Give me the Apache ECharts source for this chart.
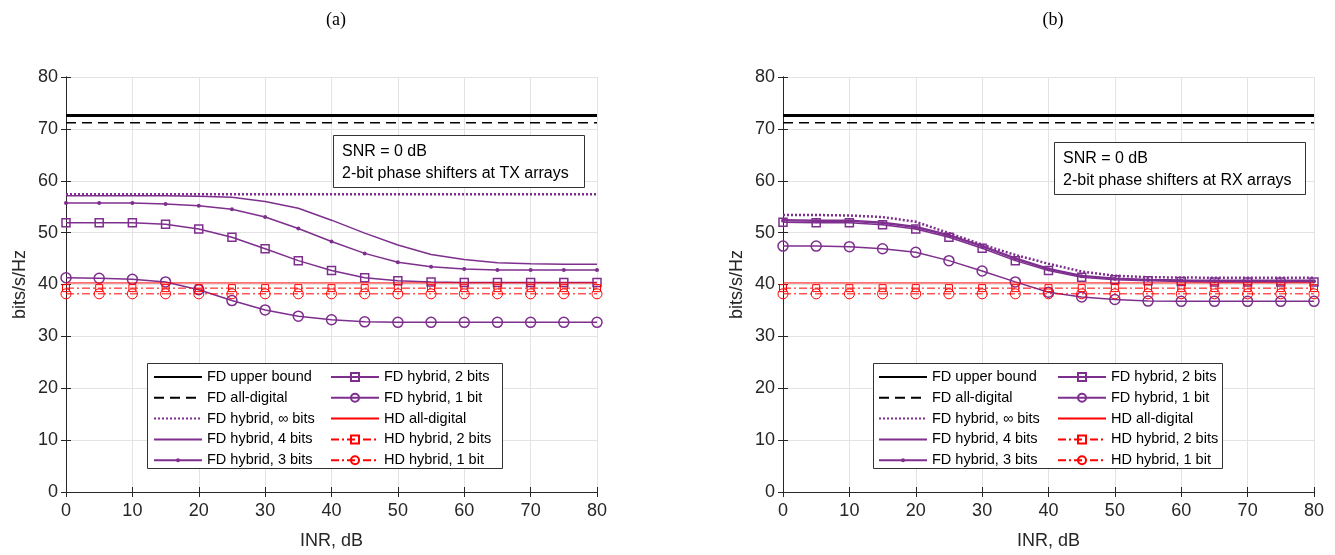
<!DOCTYPE html>
<html>
<head>
<meta charset="utf-8">
<script src="https://cdn.jsdelivr.net/npm/echarts@6/dist/echarts.min.js"></script>
<style>
  html, body { margin: 0; padding: 0; background: #fff; }
  #chart { width: 1335px; height: 555px; }
</style>
</head>
<body>
<div id="chart"></div>
<script>
const inr = [0, 5, 10, 15, 20, 25, 30, 35, 40, 45, 50, 55, 60, 65, 70, 75, 80];

// shared by both panels
const upperBound = [72.6, 72.6, 72.6, 72.6, 72.6, 72.6, 72.6, 72.6, 72.6, 72.6, 72.6, 72.6, 72.6, 72.6, 72.6, 72.6, 72.6];
const fdAllDigital = [71.2, 71.2, 71.2, 71.2, 71.2, 71.2, 71.2, 71.2, 71.2, 71.2, 71.2, 71.2, 71.2, 71.2, 71.2, 71.2, 71.2];
const hdAllDigital = [40.3, 40.3, 40.3, 40.3, 40.3, 40.3, 40.3, 40.3, 40.3, 40.3, 40.3, 40.3, 40.3, 40.3, 40.3, 40.3, 40.3];
const hdHybrid2 = [39.3, 39.3, 39.3, 39.3, 39.3, 39.3, 39.3, 39.3, 39.3, 39.3, 39.3, 39.3, 39.3, 39.3, 39.3, 39.3, 39.3];
const hdHybrid1 = [38.2, 38.2, 38.2, 38.2, 38.2, 38.2, 38.2, 38.2, 38.2, 38.2, 38.2, 38.2, 38.2, 38.2, 38.2, 38.2, 38.2];

// (a) phase shifters at TX arrays
const txInf = [57.4, 57.4, 57.4, 57.4, 57.4, 57.4, 57.4, 57.4, 57.4, 57.4, 57.4, 57.4, 57.4, 57.4, 57.4, 57.4, 57.4];
const tx4 = [57.1, 57.1, 57.1, 57.1, 57.0, 56.8, 56.0, 54.7, 52.4, 49.9, 47.6, 45.8, 44.8, 44.2, 44.0, 43.9, 43.9];
const tx3 = [55.7, 55.7, 55.7, 55.5, 55.2, 54.5, 53.0, 50.8, 48.3, 46.0, 44.3, 43.4, 43.0, 42.8, 42.8, 42.8, 42.8];
const tx2 = [51.9, 51.9, 51.9, 51.6, 50.7, 49.1, 46.9, 44.6, 42.7, 41.3, 40.7, 40.5, 40.4, 40.4, 40.4, 40.4, 40.4];
const tx1 = [41.3, 41.2, 41.0, 40.5, 39.0, 36.9, 35.1, 33.9, 33.2, 32.8, 32.7, 32.7, 32.7, 32.7, 32.7, 32.7, 32.7];

// (b) phase shifters at RX arrays
const rxInf = [53.4, 53.4, 53.3, 53.0, 52.1, 49.9, 47.7, 45.7, 44.0, 42.5, 41.7, 41.4, 41.35, 41.3, 41.3, 41.3, 41.3];
const rx4 = [52.5, 52.4, 52.4, 52.0, 51.2, 49.6, 47.5, 45.1, 43.1, 41.75, 41.2, 40.95, 40.85, 40.8, 40.8, 40.8, 40.8];
const rx3 = [52.3, 52.2, 52.2, 51.8, 51.0, 49.4, 47.3, 44.9, 42.95, 41.6, 41.1, 40.85, 40.75, 40.65, 40.65, 40.65, 40.65];
const rx2 = [52.0, 51.9, 51.9, 51.5, 50.7, 49.1, 47.0, 44.6, 42.7, 41.4, 40.9, 40.7, 40.6, 40.5, 40.5, 40.5, 40.5];
const rx1 = [47.4, 47.4, 47.3, 46.9, 46.2, 44.6, 42.6, 40.5, 38.5, 37.6, 37.1, 36.8, 36.75, 36.75, 36.75, 36.75, 36.75];

const legendCol1 = ['FD upper bound', 'FD all-digital', 'FD hybrid, \u221e bits', 'FD hybrid, 4 bits', 'FD hybrid, 3 bits'];
const legendCol2 = ['FD hybrid, 2 bits', 'FD hybrid, 1 bit', 'HD all-digital', 'HD hybrid, 2 bits', 'HD hybrid, 1 bit'];
const panelTitles = ['(a)', '(b)'];
const noteLines = [
  ['SNR = 0 dB', '2-bit phase shifters at TX arrays'],
  ['SNR = 0 dB', '2-bit phase shifters at RX arrays']
];

const purple = '#7e2f8e';
const red = '#ff0000';
const clear = 'rgba(0,0,0,0)';
const sans = '"Liberation Sans", Arial, sans-serif';
const axisColor = '#262626';

const styles = {
  'FD upper bound': { symbol: 'none', lineStyle: { color: '#000', width: 3 }, itemStyle: { color: clear } },
  'FD all-digital': { symbol: 'none', lineStyle: { color: '#000', width: 1.5, type: [10, 6] }, itemStyle: { color: clear } },
  'FD hybrid, \u221e bits': { symbol: 'none', lineStyle: { color: purple, width: 2.5, type: [2, 2] }, itemStyle: { color: clear } },
  'FD hybrid, 4 bits': { symbol: 'none', lineStyle: { color: purple, width: 1.5 }, itemStyle: { color: clear } },
  'FD hybrid, 3 bits': { symbol: 'circle', symbolSize: 4, lineStyle: { color: purple, width: 1.5 }, itemStyle: { color: purple } },
  'FD hybrid, 2 bits': { symbol: 'rect', symbolSize: 8, lineStyle: { color: purple, width: 1.5 }, itemStyle: { color: clear, borderColor: purple, borderWidth: 1.5 } },
  'FD hybrid, 1 bit': { symbol: 'circle', symbolSize: 10, lineStyle: { color: purple, width: 1.5 }, itemStyle: { color: clear, borderColor: purple, borderWidth: 1.5 } },
  'HD all-digital': { symbol: 'none', lineStyle: { color: red, width: 1 }, itemStyle: { color: clear } },
  'HD hybrid, 2 bits': { symbol: 'rect', symbolSize: 7, lineStyle: { color: red, width: 1, type: [8, 3, 2, 3] }, itemStyle: { color: clear, borderColor: red, borderWidth: 1 } },
  'HD hybrid, 1 bit': { symbol: 'circle', symbolSize: 10, lineStyle: { color: red, width: 1, type: [8, 3, 2, 3] }, itemStyle: { color: clear, borderColor: red, borderWidth: 1 } }
};

const panels = [
  { values: [upperBound, fdAllDigital, txInf, tx4, tx3, tx2, tx1, hdAllDigital, hdHybrid2, hdHybrid1],
    left: 66, width: 531, titleX: 331, legendBox: [147, 363, 355, 105], col1: 153, col2: 330,
    noteBox: [333, 135, 251, 52] },
  { values: [upperBound, fdAllDigital, rxInf, rx4, rx3, rx2, rx1, hdAllDigital, hdHybrid2, hdHybrid1],
    left: 783, width: 531, titleX: 1048, legendBox: [873, 363, 349, 105], col1: 878, col2: 1057,
    noteBox: [1054, 142, 251, 52] }
];
const names = legendCol1.concat(legendCol2);

const chart = echarts.init(document.getElementById('chart'));

const grid = [];
const xAxis = [];
const yAxis = [];
const series = [];
const legend = [];
const title = [];
const graphic = [];

const tickStyle = { show: true, inside: true, length: 5, lineStyle: { color: axisColor } };

panels.forEach((p, k) => {
  grid.push({ left: p.left, top: 77, width: p.width, height: 415 });
  xAxis.push({
    type: 'value', gridIndex: k, min: 0, max: 80, interval: 10,
    name: 'INR, dB', nameLocation: 'middle', nameGap: 40,
    nameTextStyle: { fontFamily: sans, fontSize: 18, color: axisColor },
    axisLine: { show: true, lineStyle: { color: axisColor } },
    axisTick: tickStyle,
    axisLabel: { fontFamily: sans, fontSize: 18, color: axisColor, margin: 10 },
    splitLine: { show: true, lineStyle: { color: '#e3e3e3' } }
  });
  yAxis.push({
    type: 'value', gridIndex: k, min: 0, max: 80, interval: 10,
    name: 'bits/s/Hz', nameLocation: 'middle', nameGap: 37,
    nameTextStyle: { fontFamily: sans, fontSize: 18, color: axisColor },
    axisLine: { show: true, lineStyle: { color: axisColor } },
    axisTick: tickStyle,
    axisLabel: { fontFamily: sans, fontSize: 18, color: axisColor, margin: 8 },
    splitLine: { show: true, lineStyle: { color: '#e3e3e3' } }
  });
  title.push({
    text: panelTitles[k], left: p.titleX, top: 6, textAlign: 'center',
    textStyle: { fontFamily: '"Liberation Serif", "Times New Roman", serif', fontSize: 18, fontWeight: 'normal', color: '#000' }
  });

  p.values.forEach((vals, i) => {
    series.push(Object.assign({
      type: 'line',
      name: names[i],
      xAxisIndex: k,
      yAxisIndex: k,
      data: inr.map((x, j) => [x, vals[j]]),
      silent: true,
      animation: false,
      z: 2 + i * 0.01
    }, styles[names[i]]));
  });

  // two legend columns; the first uses a small marker height for the 3-bit dot
  [[legendCol1, p.col1, 5], [legendCol2, p.col2, 10]].forEach(([items, x, ih]) => {
    legend.push({
      data: items, orient: 'vertical', left: x, top: 369, padding: 0,
      itemWidth: 48, itemHeight: ih, itemGap: 4.8, selectedMode: false, z: 6,
      textStyle: { fontFamily: sans, fontSize: 14.5, lineHeight: 16, color: '#000' }
    });
  });

  const lb = p.legendBox;
  graphic.push({
    type: 'rect', z: 5, silent: true,
    shape: { x: lb[0] + 0.5, y: lb[1] + 0.5, width: lb[2], height: lb[3] },
    style: { fill: '#fff', stroke: '#333', lineWidth: 1 }
  });
  const nb = p.noteBox;
  graphic.push({
    type: 'rect', z: 5, silent: true,
    shape: { x: nb[0] + 0.5, y: nb[1] + 0.5, width: nb[2], height: nb[3] },
    style: { fill: '#fff', stroke: '#333', lineWidth: 1 }
  });
  noteLines[k].forEach((line, i) => {
    graphic.push({
      type: 'text', z: 6, silent: true, x: nb[0] + 9, y: nb[1] + 17 + i * 21.6,
      style: { text: line, font: '16px ' + sans, fill: '#000', textVerticalAlign: 'middle' }
    });
  });
});

// mirrored top and right axes with ticks only, to close the box
panels.forEach((p, k) => {
  xAxis.push({
    type: 'value', gridIndex: k, position: 'top', min: 0, max: 80, interval: 10,
    axisLine: { show: true, lineStyle: { color: axisColor } },
    axisTick: tickStyle, axisLabel: { show: false }, splitLine: { show: false }
  });
  yAxis.push({
    type: 'value', gridIndex: k, position: 'right', min: 0, max: 80, interval: 10,
    axisLine: { show: true, lineStyle: { color: axisColor } },
    axisTick: tickStyle, axisLabel: { show: false }, splitLine: { show: false }
  });
});

chart.setOption({
  animation: false,
  title,
  grid,
  xAxis,
  yAxis,
  legend,
  graphic,
  series
});

window.addEventListener('resize', () => chart.resize());
</script>
</body>
</html>
